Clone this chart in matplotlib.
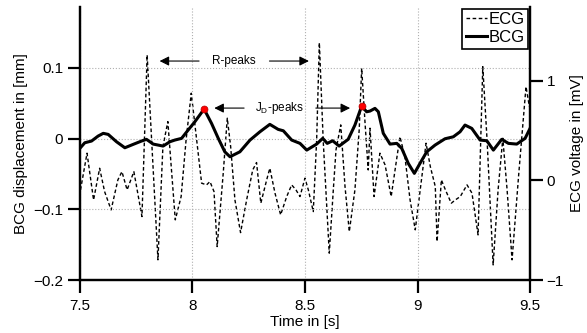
import matplotlib
matplotlib.use('Agg')
from matplotlib import pyplot as plt

plt.rcParams['font.family'] = ['Liberation Sans', 'DejaVu Sans']

# ECG trace (time in s, voltage in mV)
ecg_t = [7.503, 7.532, 7.561, 7.588, 7.610, 7.639, 7.669, 7.687, 7.710, 7.740,
         7.776, 7.799, 7.847, 7.869, 7.891, 7.906, 7.924, 7.950, 7.972, 7.995,
         8.019, 8.041, 8.063, 8.078, 8.096, 8.110, 8.137, 8.155, 8.170, 8.189,
         8.214, 8.241, 8.268, 8.285, 8.304, 8.330, 8.344, 8.367, 8.392, 8.419,
         8.441, 8.460, 8.478, 8.500, 8.515, 8.537, 8.552, 8.564, 8.581, 8.608,
         8.626, 8.638, 8.659, 8.678, 8.697, 8.722, 8.741, 8.752, 8.767, 8.781,
         8.789, 8.807, 8.833, 8.856, 8.883, 8.922, 8.944, 8.967, 8.990, 9.012,
         9.038, 9.057, 9.079, 9.087, 9.106, 9.124, 9.150, 9.168, 9.190, 9.220,
         9.242, 9.269, 9.290, 9.309, 9.336, 9.358, 9.379, 9.398, 9.420, 9.450,
         9.482, 9.497]
ecg_v = [-0.095, 0.273, -0.196, 0.122, -0.112, -0.296, 0.005, 0.088, -0.095, 0.088,
         -0.363, 1.259, -0.797, 0.339, 0.590, 0.138, -0.396, -0.162, 0.406, 0.875,
         0.406, -0.028, -0.045, -0.012, -0.112, -0.664, 0.072, 0.624, 0.339, -0.196,
         -0.524, -0.196, 0.105, 0.179, -0.229, 0.005, 0.122, -0.128, -0.346, -0.162,
         -0.045, -0.095, -0.162, 0.022, -0.095, -0.313, 0.406, 1.382, 0.406, -0.730,
         -0.095, 0.306, 0.557, -0.062, -0.514, -0.095, 0.507, 1.125, 0.574, 0.105,
         0.524, -0.162, 0.273, 0.155, -0.162, 0.439, 0.239, -0.196, -0.496, -0.095,
         0.373, 0.138, -0.062, -0.614, 0.005, -0.095, -0.229, -0.196, -0.162, -0.045,
         -0.128, -0.547, 1.141, 0.406, -0.848, -0.095, 0.423, -0.095, -0.797, 0.072,
         0.941, 0.740]

# BCG trace (time in s, displacement in mm)
bcg_t = [7.500, 7.522, 7.552, 7.581, 7.604, 7.626, 7.663, 7.700, 7.737, 7.774,
         7.796, 7.826, 7.870, 7.900, 7.922, 7.952, 7.981, 8.011, 8.052, 8.085,
         8.115, 8.144, 8.167, 8.211, 8.256, 8.300, 8.344, 8.381, 8.404, 8.441,
         8.478, 8.508, 8.552, 8.579, 8.599, 8.623, 8.652, 8.692, 8.722, 8.752,
         8.774, 8.789, 8.811, 8.826, 8.848, 8.878, 8.908, 8.930, 8.959, 8.986,
         9.011, 9.041, 9.078, 9.122, 9.159, 9.189, 9.211, 9.241, 9.278, 9.308,
         9.337, 9.374, 9.404, 9.441, 9.478, 9.500]
bcg_v = [-0.0139, -0.0059, -0.0035, 0.0035, 0.0074, 0.0059, -0.0045, -0.0130, -0.0082, -0.0035,
         -0.0011, -0.0078, -0.0106, -0.0045, -0.0021, 0.0003, 0.0120, 0.0238, 0.0417, 0.0215,
         0.0003, -0.0187, -0.0257, -0.0187, -0.0021, 0.0096, 0.0201, 0.0130, 0.0110, -0.0021,
         -0.0068, -0.0163, -0.0078, 0.0003, -0.0068, -0.0031, -0.0106, -0.0011, 0.0191, 0.0460,
         0.0379, 0.0389, 0.0427, 0.0379, 0.0074, -0.0078, -0.0068, -0.0139, -0.0351, -0.0492,
         -0.0351, -0.0187, -0.0092, -0.0003, 0.0025, 0.0096, 0.0191, 0.0144, -0.0021, -0.0031,
         -0.0163, -0.0011, -0.0068, -0.0078, 0.0003, 0.0144]

# J_D peaks
jd_t = [8.052, 8.752]
jd_v = [0.0417, 0.0460]

x_ticks = [7.5, 8, 8.5, 9, 9.5]
x_labels = ['7.5', '8', '8.5', '9', '9.5']
bcg_ticks = [-0.2, -0.1, 0, 0.1]
bcg_labels = ['\u22120.2', '\u22120.1', '0', '0.1']
ecg_ticks = [-1, 0, 1]
ecg_labels = ['\u22121', '0', '1']

fig = plt.figure(figsize=(5.87, 3.33), dpi=100)
ax = fig.add_axes([0.136, 0.159, 0.767, 0.820])
ax2 = ax.twinx()
ax.set_zorder(ax2.get_zorder() + 1)
ax.patch.set_visible(False)

ecg_line, = ax2.plot(ecg_t, ecg_v, color='black', lw=1.0, linestyle=(0, (2.6, 1.8)))
bcg_line, = ax.plot(bcg_t, bcg_v, color='black', lw=2.2, solid_joinstyle='round')
ax.plot(jd_t, jd_v, 'o', color='red', markersize=5, markeredgecolor='#b00000',
        markeredgewidth=0.5)

ax.set_xlim(7.5, 9.5)
ax.set_ylim(-0.2, 0.186)
ax2.set_ylim(-1, 1.74)

ax.set_xticks(x_ticks)
ax.set_xticklabels(x_labels)
ax.set_yticks(bcg_ticks)
ax.set_yticklabels(bcg_labels)
ax2.set_yticks(ecg_ticks)
ax2.set_yticklabels(ecg_labels)

ax.grid(True, color='#b0b0b0', linestyle=':', lw=0.8)

for a in (ax, ax2):
    a.spines['top'].set_visible(False)
    for s in ('left', 'right', 'bottom'):
        a.spines[s].set_linewidth(1.6)
    a.tick_params(direction='out', length=9, width=1.6, labelsize=11, pad=3)
ax.tick_params(axis='x', pad=5)

ax.set_xlabel('Time in [s]', fontsize=11, labelpad=1)
ax.set_ylabel('BCG displacement in [mm]', fontsize=11, labelpad=4)
ax2.set_ylabel('ECG voltage in [mV]', fontsize=11, labelpad=4)

arrow = dict(arrowstyle='-|>', color='black', lw=0.8, mutation_scale=14)
ax.text(8.184, 0.1096, 'R-peaks', fontsize=8.5, ha='center', va='center')
ax.annotate('', xy=(7.842, 0.1096), xytext=(8.042, 0.1096), arrowprops=arrow)
ax.annotate('', xy=(8.53, 0.1096), xytext=(8.33, 0.1096), arrowprops=arrow)
ax.text(8.387, 0.0431, 'J$_\\mathregular{D}$-peaks', fontsize=8.5, ha='center', va='center')
ax.annotate('', xy=(8.085, 0.0431), xytext=(8.242, 0.0431), arrowprops=arrow)
ax.annotate('', xy=(8.713, 0.0431), xytext=(8.536, 0.0431), arrowprops=arrow)

leg = ax.legend([ecg_line, bcg_line], ['ECG', 'BCG'], loc='upper right',
                fontsize=12, handlelength=1.3, handletextpad=0.1,
                borderpad=0.2, borderaxespad=0.1, labelspacing=0.2,
                fancybox=False, framealpha=1)
leg.get_frame().set_edgecolor('black')
leg.get_frame().set_linewidth(1.2)

fig.savefig('out.png', dpi=100)
